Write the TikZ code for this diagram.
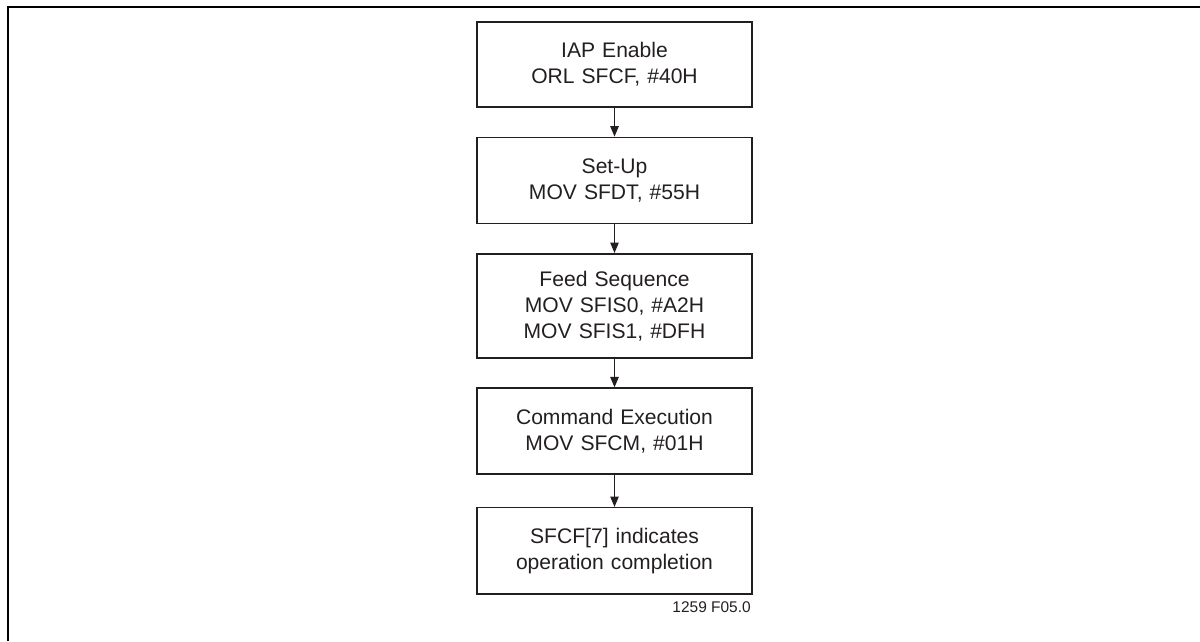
\documentclass[tikz,border=0pt]{standalone}
\usepackage{fontspec}
\setmainfont{Liberation Sans}
\usepackage{tikz}
\usetikzlibrary{positioning,arrows.meta}

\definecolor{inkgray}{RGB}{35,31,32}

\tikzset{
  flowbox/.style={draw=inkgray,text=inkgray,line width=1.1pt,minimum width=6.875cm,
    minimum height=2.15cm,text width=6.5cm,align=center,inner sep=0pt,
    font=\fontsize{15pt}{18.5pt}\selectfont},
  flowarrow/.style={draw=inkgray,line width=0.9pt,-{Triangle[length=2.6mm,width=2.1mm]}}
}

\begin{document}
\begin{tikzpicture}[x=0.025cm,y=-0.025cm,node distance=0.72cm]
\useasboundingbox (0,0) rectangle (1200,641);
\draw[line width=1.4pt] (8,641) -- (8,7) -- (1200,7);

\node[flowbox,minimum height=2.125cm] (enable) at (614.5,64.5) {IAP Enable\\ORL SFCF, \#40H};
\node[flowbox,below=of enable] (setup) {Set-Up\\MOV SFDT, \#55H};
\node[flowbox,below=of setup,minimum height=2.6cm] (feed) {Feed Sequence\\MOV SFIS0, \#A2H\\MOV SFIS1, \#DFH};
\node[flowbox,below=of feed] (exec) {Command Execution\\MOV SFCM, \#01H};
\node[flowbox,below=0.8cm of exec] (done) {SFCF[7] indicates\\operation completion};

\draw[flowarrow] (enable) -- (setup);
\draw[flowarrow] (setup) -- (feed);
\draw[flowarrow] (feed) -- (exec);
\draw[flowarrow] (exec) -- (done);

\node[anchor=base east,text=inkgray,font=\fontsize{11pt}{13pt}\selectfont,inner sep=0pt] (figno) at (751,612) {1259 F05.0};
\end{tikzpicture}
\end{document}
